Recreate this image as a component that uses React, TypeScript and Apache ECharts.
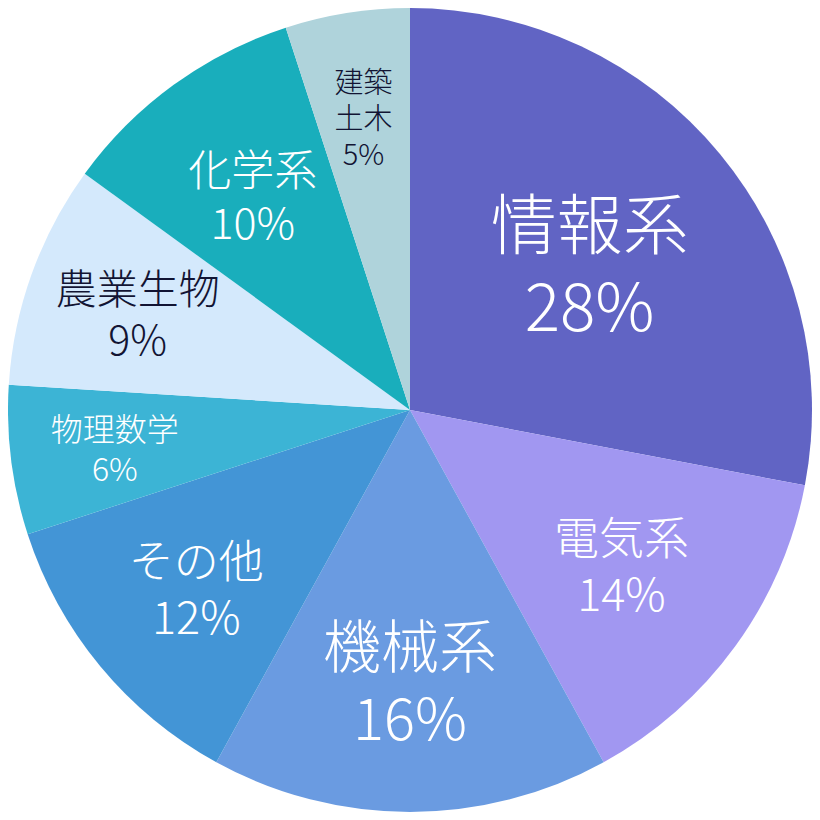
import React, { useEffect, useRef } from "react";
import * as echarts from "echarts";

// 分野別の割合（%）
const categories = ["情報系", "電気系", "機械系", "その他", "物理数学", "農業生物", "化学系", "建築\n土木"];
const shares = [28, 14, 16, 12, 6, 9, 10, 5];

const sliceColors = ["#6164C4", "#A197F1", "#6A9BE1", "#4395D6", "#3CB4D5", "#D4E9FC", "#19AEBC", "#AFD3DB"];
const labelColors = ["#fff", "#fff", "#fff", "#fff", "#fff", "#121433", "#fff", "#121433"];
const labelSizes = [66, 45, 58, 45, 32, 41, 43, 29];
// ラベル中心の半径方向の位置（半径に対する比）
const labelRadius = [0.58, 0.65, 0.67, 0.69, 0.74, 0.72, 0.665, 0.74];

const SIZE = 812;
const CX = 402;
const CY = 402;
const R = 402;

export default function App() {
  const ref = useRef<HTMLDivElement>(null);

  useEffect(() => {
    if (!ref.current) return;
    const chart = echarts.init(ref.current, null, { renderer: "svg" });
    const total = shares.reduce((a, b) => a + b, 0);
    const mids: number[] = [];
    let acc = 0;
    shares.forEach((v) => {
      mids.push(((acc + v / 2) / total) * Math.PI * 2);
      acc += v;
    });

    chart.setOption({
      animation: false,
      series: [
        {
          type: "pie",
          center: [CX, CY],
          radius: [0, R],
          startAngle: 90,
          clockwise: true,
          avoidLabelOverlap: false,
          itemStyle: { borderWidth: 0 },
          emphasis: { disabled: true },
          label: {
            show: true,
            position: "inside",
            fontFamily: "'Noto Sans CJK JP', sans-serif",
            fontWeight: 300,
            align: "center",
            verticalAlign: "middle",
            formatter: (p: any) => `${p.name}\n${p.value}%`,
          },
          labelLine: { show: false },
          labelLayout: (params: any) => {
            const i = params.dataIndex;
            const a = mids[i];
            const r = labelRadius[i] * R;
            return { x: CX + r * Math.sin(a), y: CY - r * Math.cos(a), align: "center", verticalAlign: "middle" };
          },
          data: categories.map((name, i) => ({
            name,
            value: shares[i],
            itemStyle: { color: sliceColors[i] },
            label: {
              color: labelColors[i],
              fontSize: labelSizes[i],
              lineHeight: Math.round(labelSizes[i] * 1.24),
            },
          })),
        },
      ],
    });
    return () => chart.dispose();
  }, []);

  return <div ref={ref} style={{ width: SIZE, height: SIZE }} />;
}
